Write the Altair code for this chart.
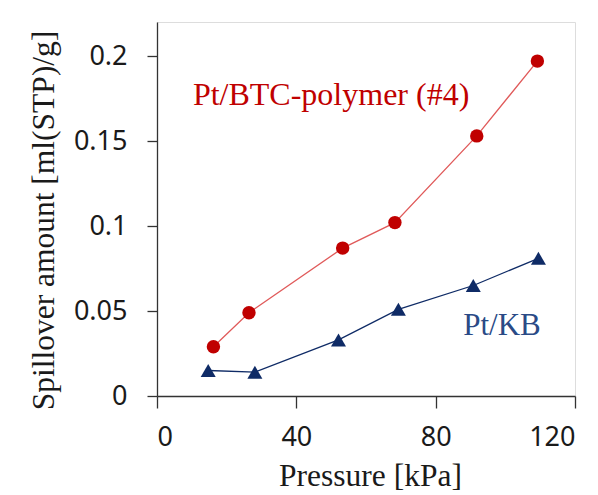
import altair as alt
import pandas as pd

# Data
btc_pressure = [16.2, 26.4, 53.3, 68.3, 91.8, 109.2]
btc_amount = [0.029, 0.049, 0.087, 0.102, 0.153, 0.197]
kb_pressure = [14.7, 28.1, 52.1, 69.3, 90.8, 109.5]
kb_amount = [0.015, 0.014, 0.033, 0.051, 0.065, 0.081]

x_ticks = [0, 40, 80, 120]
y_ticks = [0, 0.05, 0.1, 0.15, 0.2]

label_text = ["Pt/BTC-polymer (#4)", "Pt/KB"]
label_x = [10.3, 87.9]
label_y = [0.171, 0.0356]

RED = "#C00000"
RED_LINE = "#E05A5A"
NAVY = "#0F2B66"
NAVY_TEXT = "#2A4A86"

btc = pd.DataFrame({"p": btc_pressure, "a": btc_amount})
kb = pd.DataFrame({"p": kb_pressure, "a": kb_amount})

x_enc = alt.X(
    "p:Q",
    scale=alt.Scale(domain=[0, 120], nice=False, zero=True),
    axis=alt.Axis(
        values=x_ticks,
        title="Pressure [kPa]",
        grid=False,
        tickSize=12,
        labelPadding=16,
        labelFont="Noto Sans",
        labelFontSize=27,
        labelColor="#1a1a1a",
        titleFont="Liberation Serif",
        titleFontSize=31.5,
        titleFontWeight="normal",
        titleColor="#1a1a1a",
        titleBaseline="alphabetic",
        titleY=89,
        titleX=213,
        domainColor="#333333",
        tickColor="#333333",
        domainWidth=1.3,
        tickWidth=1.3,
    ),
)
y_enc = alt.Y(
    "a:Q",
    scale=alt.Scale(domain=[0, 0.22], nice=False, zero=True),
    axis=alt.Axis(
        values=y_ticks,
        format="~g",
        title="Spillover amount [ml(STP)/g]",
        grid=False,
        tickSize=10,
        labelPadding=20,
        labelFont="Noto Sans",
        labelFontSize=27,
        labelColor="#1a1a1a",
        titleFont="Liberation Serif",
        titleFontSize=31.5,
        titleFontWeight="normal",
        titleColor="#1a1a1a",
        titleAngle=-90,
        titleBaseline="alphabetic",
        titleX=-104,
        titleY=198,
        domainColor="#333333",
        tickColor="#333333",
        domainWidth=1.3,
        tickWidth=1.3,
    ),
)

btc_line = alt.Chart(btc).mark_line(color=RED_LINE, strokeWidth=1.3).encode(x=x_enc, y=y_enc)
btc_pts = alt.Chart(btc).mark_point(
    shape="circle", filled=True, size=180, color=RED, opacity=1
).encode(x="p:Q", y="a:Q")

kb_line = alt.Chart(kb).mark_line(color=NAVY, strokeWidth=1.3).encode(x="p:Q", y="a:Q")
kb_pts = alt.Chart(kb).mark_point(
    shape="triangle-up", filled=True, size=225, color=NAVY, opacity=1
).encode(x="p:Q", y="a:Q")

labels = pd.DataFrame({"t": label_text, "p": label_x, "a": label_y})
btc_label = alt.Chart(labels.iloc[[0]]).mark_text(
    align="left", baseline="alphabetic", font="Liberation Serif", fontSize=32, color=RED
).encode(x="p:Q", y="a:Q", text="t:N")
kb_label = alt.Chart(labels.iloc[[1]]).mark_text(
    align="left", baseline="alphabetic", font="Liberation Serif", fontSize=31, color=NAVY_TEXT
).encode(x="p:Q", y="a:Q", text="t:N")

chart = alt.layer(btc_line, kb_line, btc_pts, kb_pts, btc_label, kb_label).properties(
    width=418,
    height=374,
    autosize=alt.AutoSizeParams(type="none"),
    padding={"left": 149, "top": 14, "right": 15, "bottom": 110},
).configure_view(stroke=None).configure(background="white")

chart.save("out.html", embed_options={"renderer": "svg", "actions": False})
